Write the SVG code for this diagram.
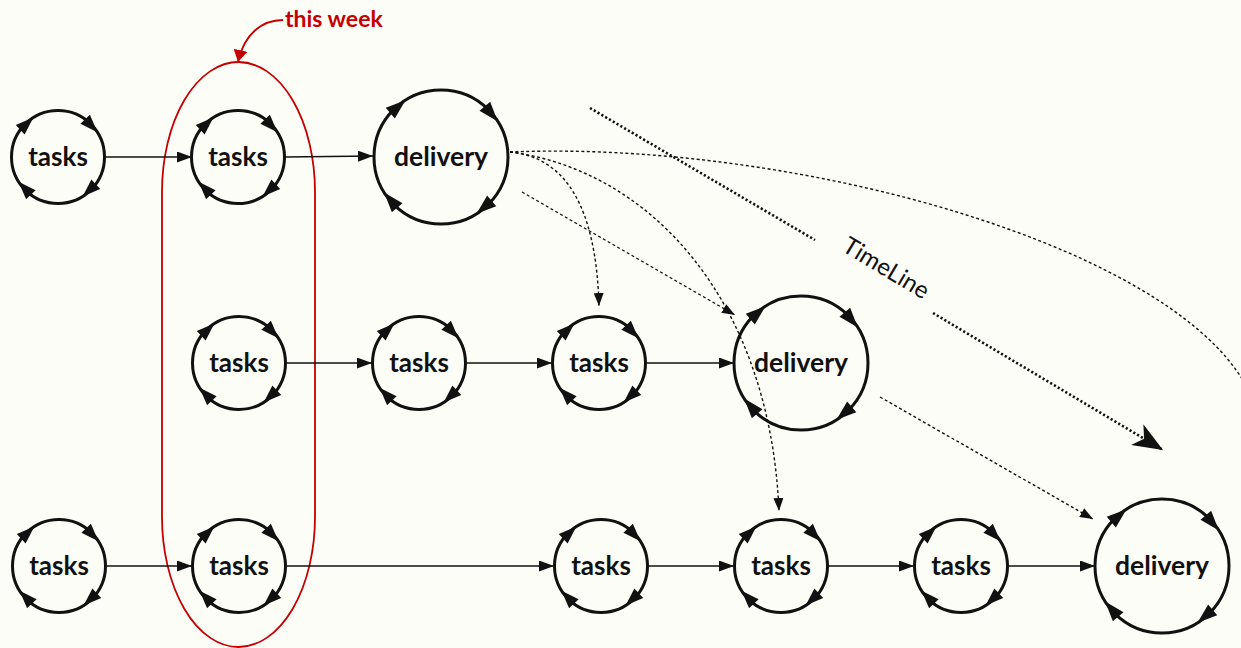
<svg xmlns="http://www.w3.org/2000/svg" xmlns:xlink="http://www.w3.org/1999/xlink" width="1241" height="648" viewBox="0 0 1241 648">
  <style>
    .ring { fill: none; stroke: #111; stroke-width: 3; }
    .head { fill: #111; stroke: none; }
    .label { font-family: Lato, "Open Sans", "Liberation Sans", sans-serif; font-weight: 700; fill: #111; text-anchor: middle; }
    .t { font-size: 26px; }
    .d { font-size: 26.5px; }
    .flow { fill: none; stroke: #111; stroke-width: 1.5; marker-end: url(#arrow); }
    .plan { fill: none; stroke: #111; stroke-width: 1.4; stroke-dasharray: 3 2.5; marker-end: url(#arrowSmall); }
    .timeline { fill: none; stroke: #111; stroke-width: 2.6; stroke-dasharray: 2.2 2.2; }
    .week { fill: none; stroke: #c40000; stroke-width: 1.8; }
  </style>
  <defs>
    <!-- arrowheads riding on the cycle rings -->
    <path id="headT" class="head" d="M0,0 L-18,-6.5 L-18,6.5 Z"/>
    <path id="headD" class="head" d="M0,0 L-20,-7 L-20,7 Z"/>
    <!-- task cycle ring, r = 46.5 -->
    <g id="ringT">
      <circle class="ring" r="46.5"/>
      <use xlink:href="#headT" transform="rotate(-32) translate(46.5,0) rotate(79)"/>
      <use xlink:href="#headT" transform="rotate(-122) translate(46.5,0) rotate(79)"/>
      <use xlink:href="#headT" transform="rotate(58) translate(46.5,0) rotate(79)"/>
      <use xlink:href="#headT" transform="rotate(148) translate(46.5,0) rotate(79)"/>
    </g>
    <!-- delivery cycle ring, r = 67 -->
    <g id="ringD">
      <circle class="ring" r="67"/>
      <use xlink:href="#headD" transform="rotate(-32) translate(67,0) rotate(81.5)"/>
      <use xlink:href="#headD" transform="rotate(-122) translate(67,0) rotate(81.5)"/>
      <use xlink:href="#headD" transform="rotate(58) translate(67,0) rotate(81.5)"/>
      <use xlink:href="#headD" transform="rotate(148) translate(67,0) rotate(81.5)"/>
    </g>
    <marker id="arrow" viewBox="0 0 15 11" refX="15" refY="5.5" markerWidth="15" markerHeight="11" markerUnits="userSpaceOnUse" orient="auto">
      <path d="M0,0 L15,5.5 L0,11 Z" fill="#111"/>
    </marker>
    <marker id="arrowSmall" viewBox="0 0 13 10" refX="13" refY="5" markerWidth="13" markerHeight="10" markerUnits="userSpaceOnUse" orient="auto">
      <path d="M0,0 L13,5 L0,10 Z" fill="#111"/>
    </marker>
    <marker id="arrowBig" viewBox="0 0 30 24" refX="30" refY="12" markerWidth="30" markerHeight="24" markerUnits="userSpaceOnUse" orient="auto">
      <path d="M0,0 L30,12 L0,24 L8,12 Z" fill="#111"/>
    </marker>
    <marker id="arrowRed" viewBox="0 0 12 14" refX="12" refY="7" markerWidth="12" markerHeight="14" markerUnits="userSpaceOnUse" orient="auto">
      <path d="M0,0 L12,7 L0,14 Z" fill="#c40000"/>
    </marker>
  </defs>

  <rect width="1241" height="648" fill="#fdfdf8"/>

  <!-- current-week frame and its callout -->
  <g id="this-week">
    <rect class="week" x="162" y="62" width="153" height="585" rx="76.5" ry="130"/>
    <path d="M283,20 C262,20 244,34 238,62" fill="none" stroke="#c40000" stroke-width="1.8" marker-end="url(#arrowRed)"/>
    <text x="285" y="27" font-family="Lato, 'Open Sans', 'Liberation Sans', sans-serif" font-weight="700" font-size="23" fill="#c40000">this week</text>
  </g>

  <!-- time axis -->
  <g id="timeline">
    <path class="timeline" d="M590,108 L815,240"/>
    <path class="timeline" d="M933,313 L1163,450" marker-end="url(#arrowBig)"/>
    <text x="882" y="275" transform="rotate(31 882 275)" font-family="Lato, 'Open Sans', 'Liberation Sans', sans-serif" font-size="24" fill="#111" text-anchor="middle">TimeLine</text>
  </g>

  <!-- connectors -->
  <g id="connectors">
    <!-- row 1 -->
    <path class="flow" d="M105,157 L192,157"/>
    <path class="flow" d="M285,157 L373,156"/>
    <!-- row 2 -->
    <path class="flow" d="M286,363 L372,363"/>
    <path class="flow" d="M466,363 L552,363"/>
    <path class="flow" d="M646,363 L734,363"/>
    <!-- row 3 -->
    <path class="flow" d="M106,566 L192,566"/>
    <path class="flow" d="M286,566 L554,566"/>
    <path class="flow" d="M648,566 L734,566"/>
    <path class="flow" d="M828,566 L914,566"/>
    <path class="flow" d="M1008,566 L1095,566"/>
    <!-- planned hand-offs from deliveries -->
    <path class="plan" d="M510,152 Q595,160 599,306"/>
    <path class="plan" d="M510,152 C650,170 770,300 779,511"/>
    <path class="plan" d="M510,152 C800,140 1190,250 1252,398"/>
    <path class="plan" d="M522,192 L735,315"/>
    <path class="plan" d="M880,397 L1093,519"/>
  </g>

  <!-- row 1 -->
  <g id="task-1a"><use xlink:href="#ringT" x="58" y="157"/><text class="label t" x="58" y="166">tasks</text></g>
  <g id="task-1b"><use xlink:href="#ringT" x="238" y="157"/><text class="label t" x="238" y="166">tasks</text></g>
  <g id="delivery-1"><use xlink:href="#ringD" x="441" y="157"/><text class="label d" x="441" y="166">delivery</text></g>

  <!-- row 2 -->
  <g id="task-2a"><use xlink:href="#ringT" x="239" y="363"/><text class="label t" x="239" y="372">tasks</text></g>
  <g id="task-2b"><use xlink:href="#ringT" x="419" y="363"/><text class="label t" x="419" y="372">tasks</text></g>
  <g id="task-2c"><use xlink:href="#ringT" x="599" y="363"/><text class="label t" x="599" y="372">tasks</text></g>
  <g id="delivery-2"><use xlink:href="#ringD" x="801" y="363"/><text class="label d" x="801" y="372">delivery</text></g>

  <!-- row 3 -->
  <g id="task-3a"><use xlink:href="#ringT" x="59" y="566"/><text class="label t" x="59" y="575">tasks</text></g>
  <g id="task-3b"><use xlink:href="#ringT" x="239" y="566"/><text class="label t" x="239" y="575">tasks</text></g>
  <g id="task-3c"><use xlink:href="#ringT" x="601" y="566"/><text class="label t" x="601" y="575">tasks</text></g>
  <g id="task-3d"><use xlink:href="#ringT" x="781" y="566"/><text class="label t" x="781" y="575">tasks</text></g>
  <g id="task-3e"><use xlink:href="#ringT" x="961" y="566"/><text class="label t" x="961" y="575">tasks</text></g>
  <g id="delivery-3"><use xlink:href="#ringD" x="1162" y="566"/><text class="label d" x="1162" y="575">delivery</text></g>
</svg>
